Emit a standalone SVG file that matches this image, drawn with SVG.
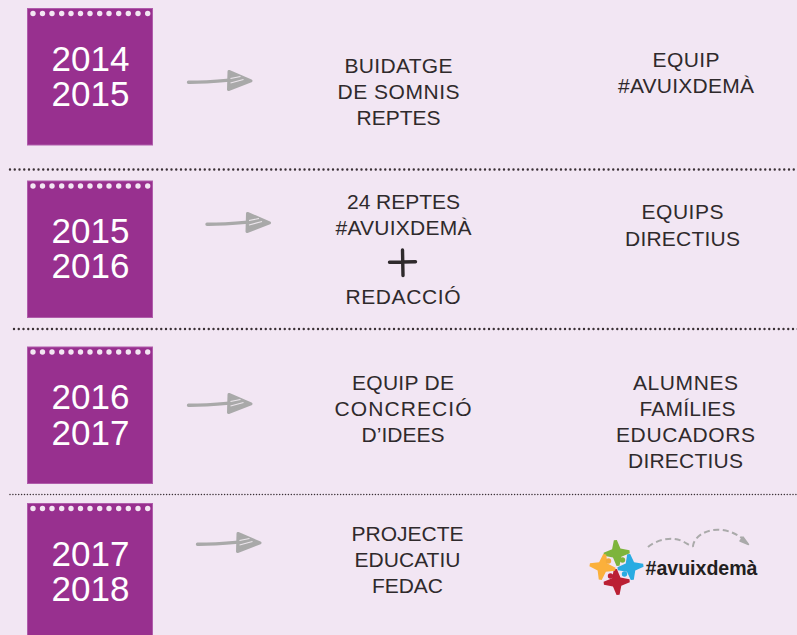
<svg xmlns="http://www.w3.org/2000/svg" width="797" height="635" viewBox="0 0 797 635">
<style>
.yr{font:35px "Liberation Sans",Arial,sans-serif;fill:#fff;text-anchor:middle}
.lb{font:21px "Liberation Sans",Arial,sans-serif;fill:#2f2a2c;text-anchor:middle}
.card{fill:#98308f;stroke:#b05cab;stroke-width:1}
.dot{fill:#f3e6f3}
.sep{fill:none;stroke:#3a3035;stroke-linecap:round}
.shaft{fill:none;stroke:#a9a9a9;stroke-width:3.400;stroke-linecap:round;stroke-linejoin:round}
.head{fill:#a9a9a9;stroke:#a9a9a9;stroke-width:3;stroke-linejoin:round}
</style>
<defs>
<g id="cal">
<rect class="card" x="27.500" y="8.500" width="125" height="136.500"/>
<g class="dot"><circle cx="33" cy="13.500" r="2.700"/><circle cx="42.500" cy="13.500" r="2.700"/><circle cx="52" cy="13.500" r="2.700"/><circle cx="61.700" cy="13.500" r="2.700"/><circle cx="71" cy="13.500" r="2.700"/><circle cx="80.500" cy="13.500" r="2.700"/><circle cx="90" cy="13.500" r="2.700"/><circle cx="99.700" cy="13.500" r="2.700"/><circle cx="109" cy="13.500" r="2.700"/><circle cx="118.700" cy="13.500" r="2.700"/><circle cx="128.300" cy="13.500" r="2.700"/><circle cx="138" cy="13.500" r="2.700"/><circle cx="147.700" cy="13.500" r="2.700"/></g>
</g>
<g id="arr">
<path class="shaft" d="M188 82.300C203 82.500 218 81 236 79.500"/>
<path class="head" d="M228.500 71.500L250.500 80.800L228 89.500Z"/>
<path d="M230 78.500L240 76.500M230 83L243 79.500" fill="none" stroke="#ece6ec" stroke-width="1.100"/>
</g>
<path id="fig" d="M-1.500-13L1.500-13L4.200-4.200L13-1.500L13 1.500L4.200 4.200L1.500 13L-1.500 13L-4.200 4.200L-13 1.500L-13-1.500L-4.200-4.200Z"/>
</defs>
<rect width="797" height="635" fill="#f2e6f3"/>
<g id="connectors">
<path class="sep" stroke-width="2.400" stroke-dasharray="0 4.750" d="M10 169.500H800"/>
<path class="sep" stroke-width="2.400" stroke-dasharray="0 4.750" d="M14 329H800"/>
<path class="sep" stroke-width="1.500" stroke-dasharray="0 2.900" d="M10 494.500H800"/>
<use href="#arr" id="arrow-1" x="0.500" y="0"/>
<use href="#arr" id="arrow-2" x="19" y="142"/>
<use href="#arr" id="arrow-3" x="0.500" y="323"/>
<use href="#arr" id="arrow-4" x="9.500" y="462"/>
</g>
<g id="year-2014"><use href="#cal"/><text class="yr" x="90.500" y="71">2014</text><text class="yr" x="90.500" y="106">2015</text></g>
<g id="year-2015"><use href="#cal" y="172.500"/><text class="yr" x="90.500" y="243">2015</text><text class="yr" x="90.500" y="278">2016</text></g>
<g id="year-2016"><use href="#cal" y="338.500"/><text class="yr" x="90.500" y="409">2016</text><text class="yr" x="90.500" y="444.500">2017</text></g>
<g id="year-2017"><use href="#cal" y="495"/><text class="yr" x="90.500" y="566">2017</text><text class="yr" x="90.500" y="601">2018</text></g>
<g id="what-1"><text class="lb" x="398.500" y="72.500" textLength="108">BUIDATGE</text><text class="lb" x="398.500" y="98.500" textLength="122">DE SOMNIS</text><text class="lb" x="398.500" y="124.500" textLength="84">REPTES</text></g>
<g id="who-1"><text class="lb" x="686" y="66.500" textLength="67">EQUIP</text><text class="lb" x="686" y="92.500" textLength="136">#AVUIXDEMÀ</text></g>
<g id="what-2"><text class="lb" x="403.500" y="208.500" textLength="113">24 REPTES</text><text class="lb" x="403.500" y="234.500" textLength="136">#AVUIXDEMÀ</text>
<path d="M389.500 262.300L415.500 261.800M402.500 250L403 275.500" fill="none" stroke="#2f2a2c" stroke-width="3.400" stroke-linecap="round"/>
<text class="lb" x="403" y="303.500" textLength="115">REDACCIÓ</text></g>
<g id="who-2"><text class="lb" x="682.500" y="218.500" textLength="82">EQUIPS</text><text class="lb" x="682.500" y="245.500" textLength="115">DIRECTIUS</text></g>
<g id="what-3"><text class="lb" x="403" y="389.500" textLength="102">EQUIP DE</text><text class="lb" x="403" y="415.500" textLength="137">CONCRECIÓ</text><text class="lb" x="403" y="441.500" textLength="83">D’IDEES</text></g>
<g id="who-3"><text class="lb" x="685.500" y="389.500" textLength="105">ALUMNES</text><text class="lb" x="687.500" y="415.500" textLength="96">FAMÍLIES</text><text class="lb" x="685.500" y="441.500" textLength="139">EDUCADORS</text><text class="lb" x="685.500" y="467.500" textLength="115">DIRECTIUS</text></g>
<g id="what-4"><text class="lb" x="407.500" y="540.500" textLength="112">PROJECTE</text><text class="lb" x="407.500" y="566.500" textLength="106">EDUCATIU</text><text class="lb" x="407.500" y="592.500" textLength="71">FEDAC</text></g>
<g id="logo">
<use href="#fig" fill="#7db43c" transform="translate(616.700 553) rotate(-6)"/>
<use href="#fig" fill="#29abe2" transform="translate(630.500 567) rotate(-8)"/>
<use href="#fig" fill="#bb1f33" transform="translate(616.700 582) rotate(-6)"/>
<use href="#fig" fill="#fbb03b" transform="translate(602.500 567) rotate(10)"/>
<circle cx="608.500" cy="561" r="2.700" fill="#f2a93c"/><circle cx="622.500" cy="560" r="2.700" fill="#7db43c"/><circle cx="624.500" cy="574" r="2.700" fill="#29abe2"/><circle cx="610.500" cy="576" r="2.700" fill="#bb1f33"/>
<text x="645.500" y="574.500" font-family="'Liberation Sans',Arial,sans-serif" font-weight="700" font-size="19.400" fill="#231f20" textLength="112" lengthAdjust="spacingAndGlyphs">#avuixdemà</text>
<path d="M648 547C656 540 672 536 682 541C688 544 691 547 693 546C694 536 708 528 722 530C730 531 737 534 743 539" fill="none" stroke="#aaa" stroke-width="2" stroke-dasharray="6 3.500"/>
<path d="M743 537L748.500 544.500L740 541Z" fill="#aaa" stroke="#aaa" stroke-width="1.500" stroke-linejoin="round"/>
</g>
</svg>
